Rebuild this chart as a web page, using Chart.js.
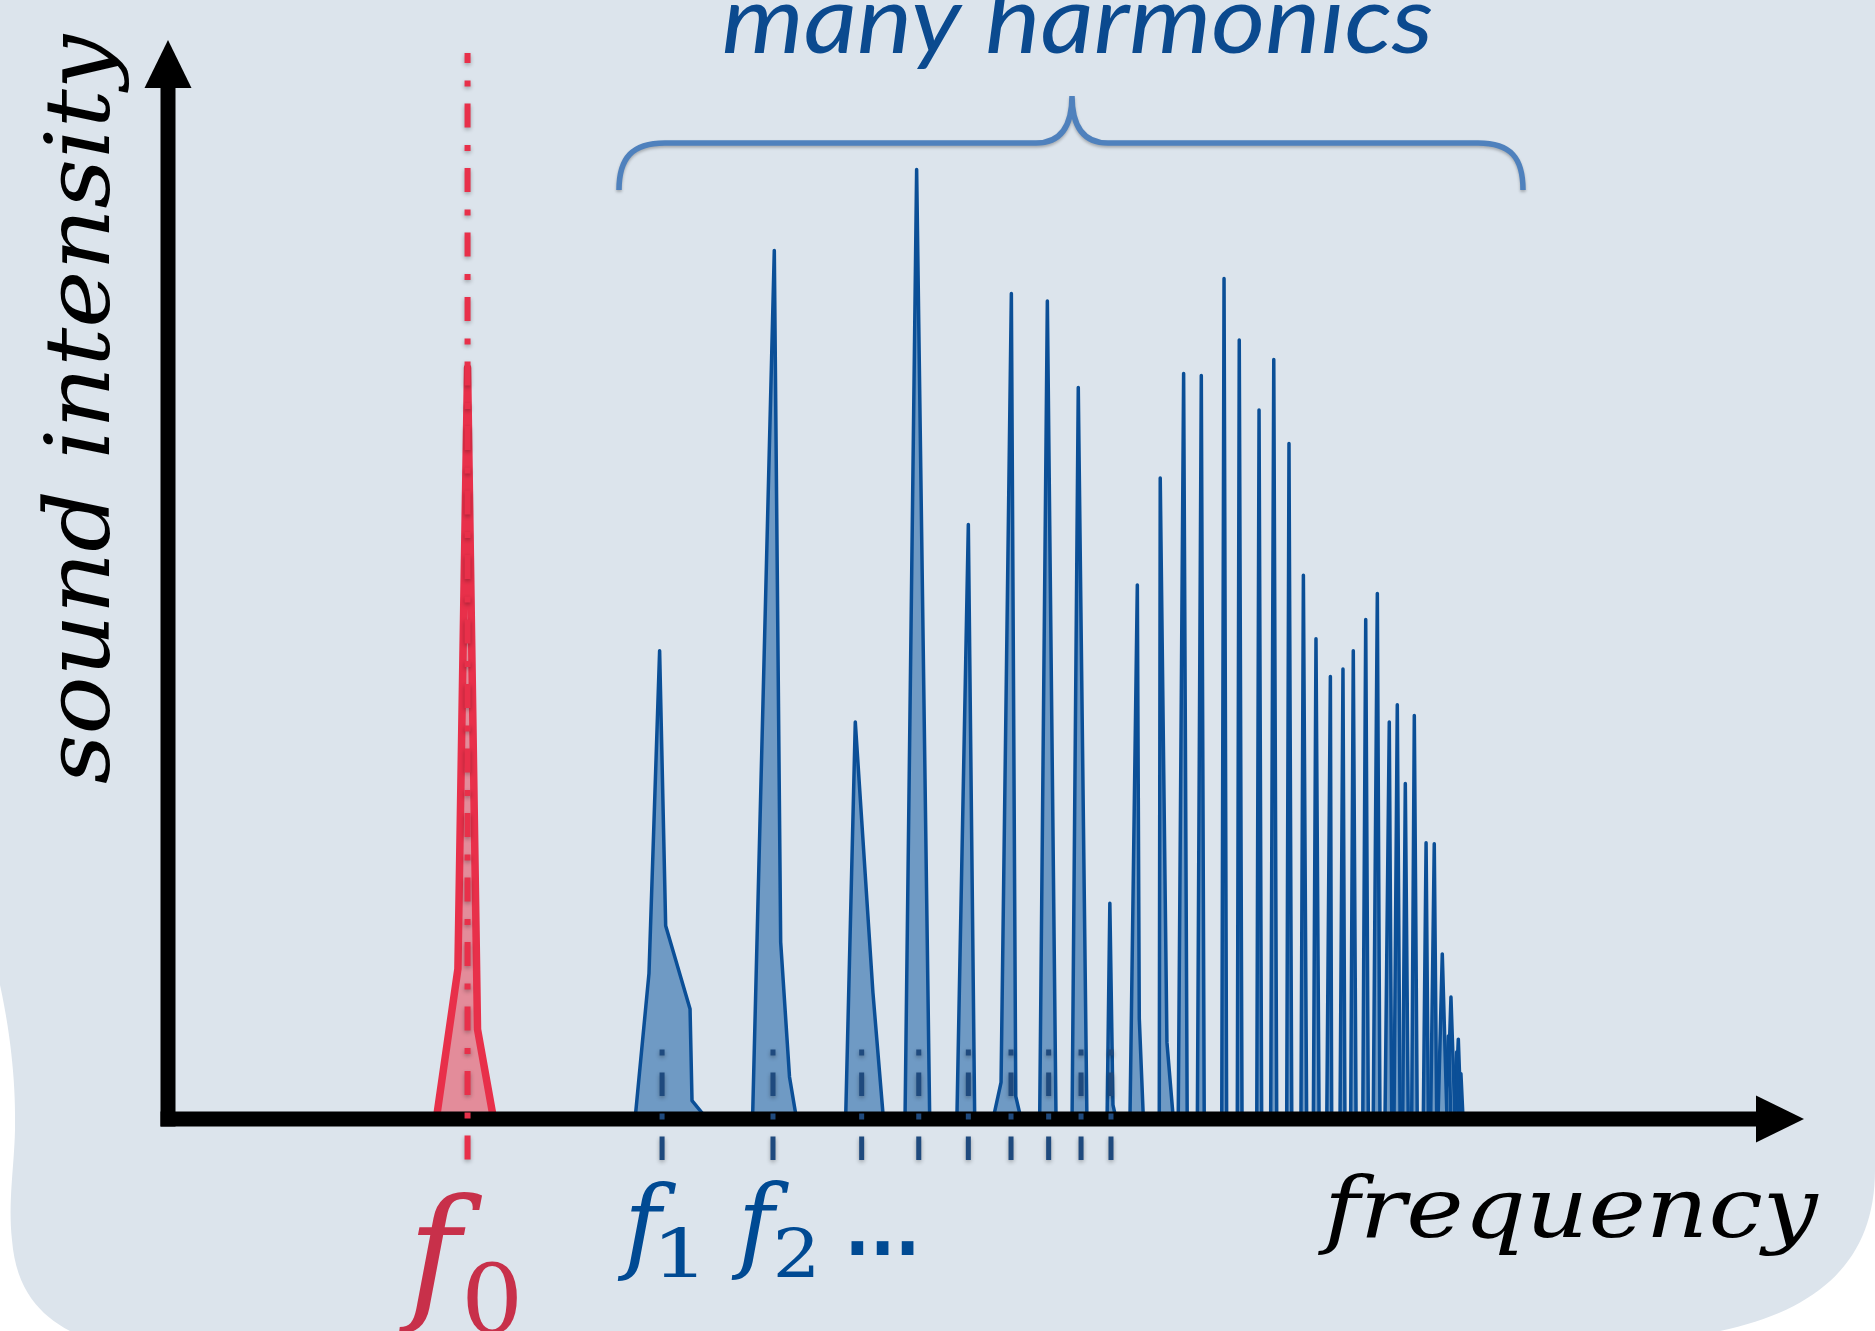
<!DOCTYPE html>
<html>
<head>
<meta charset="utf-8">
<title>many harmonics</title>
<script src="https://cdn.jsdelivr.net/npm/chart.js@4.4.1/dist/chart.umd.min.js"></script>
<style>
  html, body { margin: 0; padding: 0; background: #fff; }
  #chart { display: block; }
</style>
</head>
<body>
<canvas id="chart" width="1875" height="1331"></canvas>
<script>
// both axes run 0..100 in arbitrary units, 100 = tip of the arrow

// fundamental (red)
const f0Freq  = [16.40, 17.72, 18.31, 18.92, 19.90];
const f0Level = [0, 13.9, 69.6, 8.3, 0];
const f0Marker = 18.31;

// harmonics (blue): centre, peak level, left / right foot
const harmFreq  = [30.05, 37.06, 42.01, 45.76, 48.92, 51.55, 53.75, 55.64, 57.57, 59.25,
                   60.65, 62.08, 63.16, 64.55, 65.48, 66.69, 67.59, 68.52, 69.40, 70.17,
                   71.05, 71.82, 72.45, 73.21, 73.92, 74.65, 75.14, 75.63, 76.18, 76.90,
                   77.40, 77.89, 78.26, 78.42, 78.77, 78.87, 79.03];
const harmLevel = [43.4, 80.5, 36.8, 88.0, 55.1, 76.5, 75.8, 67.8, 20.0, 49.5,
                   59.4, 69.1, 68.9, 77.9, 72.2, 65.7, 70.4, 62.6, 50.4, 44.5,
                   41.0, 41.7, 43.4, 46.3, 48.7, 36.8, 38.4, 31.1, 37.4, 25.6,
                   25.5, 15.3, 7.7, 11.3, 6.2, 7.4, 4.2];
const harmFootL = [28.55, 35.73, 41.42, 45.05, 48.22, 50.43, 53.28, 55.26, 57.40, 58.80,
                   60.59, 61.75, 62.92, 64.41, 65.36, 66.55, 67.40, 68.38, 69.25, 70.01,
                   70.83, 71.64, 72.29, 73.03, 73.67, 74.39, 74.94, 75.47, 76.02, 76.73,
                   77.18, 77.63, 78.06, 78.18, 78.65, 78.67, 78.92];
const harmFootR = [32.95, 38.42, 43.73, 46.56, 49.31, 52.14, 54.28, 56.17, 57.95, 59.62,
                   61.45, 62.30, 63.34, 64.71, 65.65, 66.85, 67.77, 68.69, 69.60, 70.36,
                   71.13, 71.94, 72.62, 73.37, 74.08, 74.80, 75.31, 75.81, 76.36, 77.04,
                   77.55, 78.18, 78.42, 78.67, 78.90, 79.04, 79.16];
// extra knee points of the wider peaks: [peak index, freq, level]
const harmShoulders = [
  [0, 29.40, 13.5], [0, 30.42, 17.9], [0, 31.91, 10.2], [0, 32.03, 1.7],
  [1, 37.45, 16.4], [1, 37.99, 3.9],
  [2, 43.09, 11.7],
  [5, 50.92, 3.4], [5, 51.82, 2.1],
  [8, 57.76, 1.3],
  [9, 59.37, 9.3],
  [10, 61.06, 7.1]
];

// dash-dot markers at the first harmonics
const tickFreq = [30.20, 36.98, 42.40, 45.89, 48.92, 51.53, 53.83, 55.81, 57.64];

const xTitle = 'frequency';
const yTitle = 'sound intensity';
const braceTitle = 'many harmonics';

const RED = '#e8304a';
const RED_FILL = '#e38c9a';
const RED_TEXT = '#c8304a';
const BLUE = '#0b4f97';
const BLUE_FILL = '#6f9ac4';
const BLUE_TEXT = '#004a93';
const NAVY = '#1f4a7e';

function peakPoints(i) {
    const pts = [
        { x: harmFootL[i], y: 0 },
        { x: harmFreq[i], y: harmLevel[i] },
        { x: harmFootR[i], y: 0 }
    ];
    harmShoulders.filter(s => s[0] === i).forEach(s => pts.push({ x: s[1], y: s[2] }));
    return pts.sort((a, b) => a.x - b.x);
}

const datasets = [];

// markers first (order 0 -> drawn last, on top)
datasets.push({
    marker: true,
    order: 0,
    data: [{ x: f0Marker, y: 98.8 }, { x: f0Marker, y: -3.8 }],
    borderColor: RED,
    borderWidth: 6,
    borderDash: [24, 17.5, 6, 17],
    borderDashOffset: 14,
    borderCapStyle: 'butt',
    fill: false,
    clip: false
});
tickFreq.forEach(f => {
    datasets.push({
        marker: true,
        order: 0,
        data: [{ x: f, y: -3.8 }, { x: f, y: 6.5 }],
        borderColor: NAVY,
        borderWidth: 5,
        borderDash: [23.5, 17, 6, 17.5],
        borderCapStyle: 'butt',
        fill: false,
        clip: false
    });
});

datasets.push({
    order: 1,
    data: f0Freq.map((f, i) => ({ x: f, y: f0Level[i] })),
    borderColor: RED,
    backgroundColor: RED_FILL,
    borderWidth: 7.5,
    borderJoinStyle: 'round',
    fill: 'origin'
});
harmFreq.forEach((f, i) => {
    datasets.push({
        order: 1,
        data: peakPoints(i),
        borderColor: BLUE,
        backgroundColor: BLUE_FILL,
        borderWidth: 3.5,
        borderJoinStyle: 'round',
        fill: 'origin'
    });
});

// text helpers: fit a string into a box, or by x-height + width
function fitBox(ctx, text, family, color, left, top, width, height) {
    ctx.save();
    ctx.font = family.replace('SIZE', '100px');
    let m = ctx.measureText(text);
    const size = 100 * height / (m.actualBoundingBoxAscent + m.actualBoundingBoxDescent);
    ctx.font = family.replace('SIZE', size + 'px');
    m = ctx.measureText(text);
    const w = m.actualBoundingBoxLeft + m.actualBoundingBoxRight;
    ctx.translate(left, top);
    ctx.scale(width / w, 1);
    ctx.fillStyle = color;
    ctx.textAlign = 'left';
    ctx.textBaseline = 'alphabetic';
    ctx.fillText(text, m.actualBoundingBoxLeft, m.actualBoundingBoxAscent);
    ctx.restore();
}

function fitXHeight(ctx, text, family, color, left, baseline, width, xh) {
    ctx.save();
    ctx.font = family.replace('SIZE', '100px');
    const xm = ctx.measureText('x');
    const size = 100 * xh / xm.actualBoundingBoxAscent;
    ctx.font = family.replace('SIZE', size + 'px');
    const m = ctx.measureText(text);
    const w = m.actualBoundingBoxLeft + m.actualBoundingBoxRight;
    ctx.translate(left, baseline);
    ctx.scale(width / w, 1);
    ctx.fillStyle = color;
    ctx.textAlign = 'left';
    ctx.textBaseline = 'alphabetic';
    ctx.fillText(text, m.actualBoundingBoxLeft, 0);
    ctx.restore();
}

const SERIF = 'italic SIZE "DejaVu Serif", "Liberation Serif", serif';
const SANS = 'italic SIZE Lato, "Open Sans", "Noto Sans", sans-serif';

const paperPlugin = {
    id: 'paper',
    beforeDraw(chart) {
        const { ctx, width: W, height: H } = chart;
        ctx.save();
        ctx.fillStyle = '#ffffff';
        ctx.fillRect(0, 0, W, H);
        ctx.beginPath();
        ctx.moveTo(0, 0);
        ctx.lineTo(W, 0);
        ctx.lineTo(W, 1170);
        ctx.bezierCurveTo(W, 1260, 1820, 1310, 1720, H);
        ctx.lineTo(70, H);
        ctx.bezierCurveTo(40, 1315, 16, 1290, 12, 1240);
        ctx.bezierCurveTo(8, 1200, 14, 1170, 15, 1130);
        ctx.bezierCurveTo(16, 1090, 12, 1040, 0, 985);
        ctx.closePath();
        ctx.fillStyle = '#dce4ec';
        ctx.fill();
        ctx.restore();
    }
};

function drawAxes(chart) {
    const ctx = chart.ctx;
    const xs = chart.scales.x, ys = chart.scales.y;
    const x0 = xs.getPixelForValue(0), y0 = ys.getPixelForValue(0);
    const xTip = xs.getPixelForValue(100), yTip = ys.getPixelForValue(100);
    const lw = 15, head = 48, half = 23.5;
    ctx.save();
    ctx.fillStyle = '#000';
    ctx.fillRect(x0 - lw / 2, yTip + head - 1, lw, y0 + lw / 2 - (yTip + head - 1));
    ctx.fillRect(x0 - lw / 2, y0 - lw / 2, xTip - head + 1 - (x0 - lw / 2), lw);
    ctx.beginPath();
    ctx.moveTo(x0, yTip);
    ctx.lineTo(x0 + half, yTip + head);
    ctx.lineTo(x0 - half, yTip + head);
    ctx.closePath();
    ctx.fill();
    ctx.beginPath();
    ctx.moveTo(xTip, y0);
    ctx.lineTo(xTip - head, y0 - half);
    ctx.lineTo(xTip - head, y0 + half);
    ctx.closePath();
    ctx.fill();
    ctx.restore();
}

let axesDone = false;
const layerPlugin = {
    id: 'layers',
    beforeDatasetsDraw() { axesDone = false; },
    beforeDatasetDraw(chart, args) {
        const ds = chart.data.datasets[args.index];
        if (ds.marker) {
            if (!axesDone) { drawAxes(chart); axesDone = true; }
            chart.ctx.save();
            chart.ctx.shadowColor = 'rgba(0,0,0,0.3)';
            chart.ctx.shadowBlur = 4;
            chart.ctx.shadowOffsetY = 2;
        }
    },
    afterDatasetDraw(chart, args) {
        if (chart.data.datasets[args.index].marker) chart.ctx.restore();
    }
};

const labelPlugin = {
    id: 'labels',
    afterDraw(chart) {
        const ctx = chart.ctx;

        // curly brace over the harmonics
        ctx.save();
        ctx.strokeStyle = '#4f81bd';
        ctx.lineWidth = 5.5;
        ctx.lineCap = 'butt';
        ctx.shadowColor = 'rgba(0,0,0,0.25)';
        ctx.shadowBlur = 3;
        ctx.shadowOffsetY = 2;
        ctx.beginPath();
        ctx.moveTo(619, 190);
        ctx.bezierCurveTo(619, 158, 632, 143, 665, 143);
        ctx.lineTo(1036, 143);
        ctx.bezierCurveTo(1062, 143, 1072, 125, 1072, 96);
        ctx.bezierCurveTo(1072, 125, 1082, 143, 1108, 143);
        ctx.lineTo(1478, 143);
        ctx.bezierCurveTo(1511, 143, 1523, 158, 1523, 190);
        ctx.stroke();
        ctx.restore();

        fitXHeight(ctx, braceTitle, SANS, '#0b4a8f', 724, 53, 708, 48);
        fitXHeight(ctx, xTitle, SERIF, '#000', 1317, 1237, 502, 44);

        ctx.save();
        ctx.translate(0, 783);
        ctx.rotate(-Math.PI / 2);
        fitXHeight(ctx, yTitle, SERIF, '#000', 0, 109, 750, 46.5);
        ctx.restore();

        // f0, f1, f2, ...
        fitBox(ctx, 'f', SERIF, RED_TEXT, 398, 1192, 85, 141);
        fitBox(ctx, '0', SERIF.replace('italic ', ''), RED_TEXT, 467, 1261, 50, 72);
        fitBox(ctx, 'f', SERIF, BLUE_TEXT, 617, 1181, 59, 98);
        fitBox(ctx, '1', SERIF.replace('italic ', ''), BLUE_TEXT, 662, 1227, 35, 50);
        fitBox(ctx, 'f', SERIF, BLUE_TEXT, 731, 1180, 58, 98);
        fitBox(ctx, '2', SERIF.replace('italic ', ''), BLUE_TEXT, 777, 1227, 37, 50);
        fitBox(ctx, '...', 'bold SIZE "DejaVu Sans", sans-serif', BLUE_TEXT, 851, 1241, 63, 14);
    }
};

new Chart(document.getElementById('chart'), {
    type: 'line',
    data: { datasets: datasets },
    options: {
        responsive: false,
        animation: false,
        devicePixelRatio: 1,
        events: [],
        layout: { padding: { left: 168, right: 71, top: 40, bottom: 212 } },
        elements: { point: { radius: 0 }, line: { tension: 0 } },
        scales: {
            x: { type: 'linear', min: 0, max: 100, display: false },
            y: { type: 'linear', min: 0, max: 100, display: false }
        },
        plugins: {
            legend: { display: false },
            tooltip: { enabled: false },
            title: { display: false }
        }
    },
    plugins: [paperPlugin, layerPlugin, labelPlugin]
});
</script>
</body>
</html>
